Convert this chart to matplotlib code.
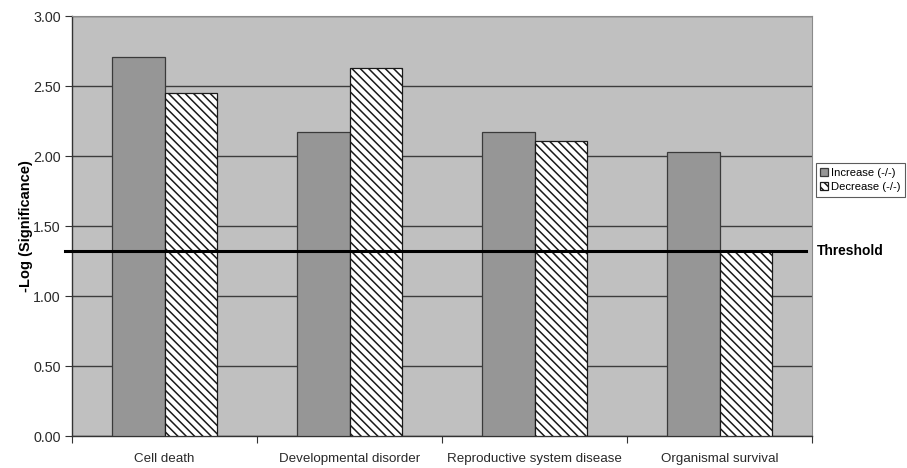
import matplotlib
matplotlib.use("Agg")
import matplotlib.pyplot as plt
import numpy as np

categories = ["Cell death", "Developmental disorder", "Reproductive system disease", "Organismal survival"]
increase = [2.71, 2.17, 2.17, 2.03]
decrease = [2.45, 2.63, 2.11, 1.32]
threshold = 1.32
yticks = [0.0, 0.5, 1.0, 1.5, 2.0, 2.5, 3.0]
series_labels = ["Increase (-/-)", "Decrease (-/-)"]

plt.rcParams['font.family'] = ['Liberation Sans', 'DejaVu Sans']
plt.rcParams['hatch.color'] = '#929292'
plt.rcParams['hatch.linewidth'] = 1.1

fig = plt.figure(figsize=(9.07, 4.68), dpi=100)
ax = fig.add_axes([72/907, 32/468, (812-72)/907, (436-16)/468])
ax.set_facecolor('#c0c0c0')

x = np.arange(len(categories))
w = 1/3.5
b1 = ax.bar(x - w/2, increase, width=w, color='#969696', edgecolor='#3a3a3a', linewidth=0.9,
            label=series_labels[0], zorder=3)
b2 = ax.bar(x + w/2, decrease, width=w, color='white', edgecolor='#1a1a1a', linewidth=0.9,
            hatch='\\\\\\\\', label=series_labels[1], zorder=3)

ax.set_xlim(-0.5, len(categories) - 0.5)
ax.set_ylim(0, 3.0)
ax.set_yticks(yticks)
ax.set_yticklabels([f"{t:.2f}" for t in yticks], fontsize=10.3, color='#2a2a2a')
ax.yaxis.grid(True, color='#3c3c3c', linewidth=1.0, zorder=1)
ax.set_axisbelow(True)

ax.set_xticks(np.arange(len(categories) + 1) - 0.5)
ax.set_xticklabels([])
ax.set_xticks(x, minor=True)
ax.set_xticklabels(categories, minor=True, fontsize=9.6, color='#2a2a2a')
ax.tick_params(axis='x', which='minor', length=0, pad=12.5)
ax.tick_params(axis='x', which='major', length=5, color='#333333')
ax.tick_params(axis='y', length=5, color='#333333', pad=3)

for s in ['top', 'right']:
    ax.spines[s].set_color('#8a8a8a')
    ax.spines[s].set_linewidth(0.8)
for s in ['left', 'bottom']:
    ax.spines[s].set_color('#333333')
    ax.spines[s].set_linewidth(1.0)

ax.set_ylabel("-Log (Significance)", fontsize=10.5, fontweight='bold', labelpad=0)

# threshold line
ax.plot([-0.54, 3.47], [threshold, threshold], color='black', linewidth=2.2, zorder=5, clip_on=False)
ax.text(1.006, threshold, "Threshold", transform=ax.get_yaxis_transform(), fontsize=9.9,
        fontweight='bold', va='center', ha='left')

leg = ax.legend(loc='center left', bbox_to_anchor=(1.005, 0.61), fontsize=8.1, frameon=True,
                fancybox=False, edgecolor='#333333', handlelength=0.7, handleheight=0.7,
                handletextpad=0.3, borderpad=0.4, labelspacing=0.4, borderaxespad=0)
leg.get_frame().set_linewidth(0.8)

fig.savefig("out.png", dpi=100, facecolor='white')
